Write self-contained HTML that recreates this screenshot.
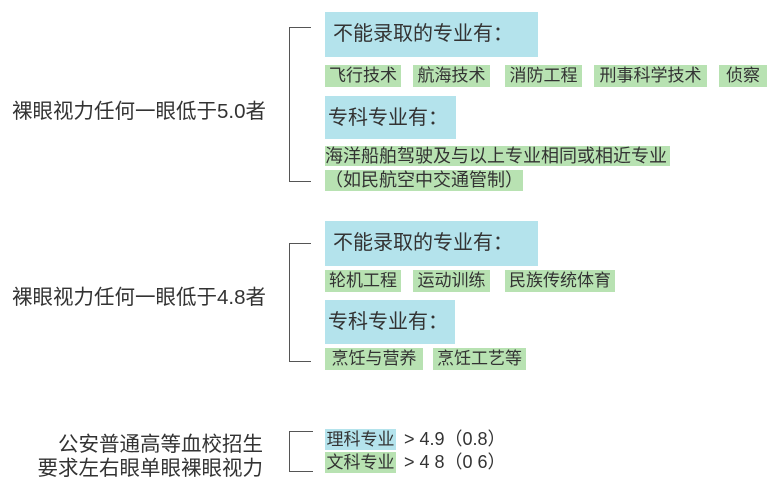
<!DOCTYPE html>
<html><head><meta charset="utf-8"><style>
body{margin:0;width:780px;height:485px;background:#fff;position:relative;overflow:hidden;font-family:"Liberation Sans","Noto Sans CJK SC",sans-serif;color:#333}
div{position:absolute;white-space:nowrap}
.c{background:#b4e3ec;font-size:20px;line-height:44px;padding-left:8px;box-sizing:border-box}
.g{background:#b8e2b2;font-size:17px;line-height:22px;text-align:center}
.l{font-size:20.5px}
.b{border:1.5px solid #555;border-right:none;width:22px;box-sizing:border-box}
</style></head><body>
<div class="l" style="left:12px;top:94px">裸眼视力任何一眼低于5.0者</div>
<div class="b" style="left:289px;top:27px;height:155px"></div>
<div class="c" style="left:325px;top:12px;width:213px;height:45px">不能录取的专业有：</div>
<div class="g" style="left:325px;top:65px;width:76px">飞行技术</div>
<div class="g" style="left:413px;top:65px;width:77px">航海技术</div>
<div class="g" style="left:505px;top:65px;width:77px">消防工程</div>
<div class="g" style="left:594px;top:65px;width:113px">刑事科学技术</div>
<div class="g" style="left:719px;top:65px;width:48px">侦察</div>
<div class="c" style="left:325px;top:96px;width:131px;height:43px;padding-left:3px">专科专业有：</div>
<div class="g" style="left:325px;top:146px;width:345px;height:20px;line-height:20px;text-align:left;font-size:18px">海洋船舶驾驶及与以上专业相同或相近专业</div>
<div class="g" style="left:325px;top:170px;width:198px;height:21px;line-height:21px;text-align:left;font-size:18px">（如民航空中交通管制）</div>

<div class="l" style="left:12px;top:280px">裸眼视力任何一眼低于4.8者</div>
<div class="b" style="left:289px;top:243px;height:119px"></div>
<div class="c" style="left:325px;top:221px;width:213px;height:45px">不能录取的专业有：</div>
<div class="g" style="left:325px;top:270px;width:76px">轮机工程</div>
<div class="g" style="left:413px;top:270px;width:77px">运动训练</div>
<div class="g" style="left:505px;top:270px;width:110px">民族传统体育</div>
<div class="c" style="left:325px;top:300px;width:130px;height:44px;padding-left:3px">专科专业有：</div>
<div class="g" style="left:325px;top:348px;width:98px">烹饪与营养</div>
<div class="g" style="left:433px;top:348px;width:93px">烹饪工艺等</div>

<div class="l" style="left:20px;top:427px;text-align:right;width:243px">公安普通高等血校招生</div>
<div class="l" style="left:20px;top:451px;text-align:right;width:243px">要求左右眼单眼裸眼视力</div>
<div class="b" style="left:289px;top:431px;height:41px;width:24px"></div>
<div class="g" style="left:325px;top:429px;width:71px;height:21px;line-height:21px;background:#b4e3ec">理科专业</div>
<div style="left:404px;top:429px;font-size:18px;line-height:21px">&gt; 4.9（0.8）</div>
<div class="g" style="left:325px;top:452px;width:71px;height:21px;line-height:21px">文科专业</div>
<div style="left:404px;top:452px;font-size:18px;line-height:21px">&gt; 4 8（0 6）</div>
</body></html>
